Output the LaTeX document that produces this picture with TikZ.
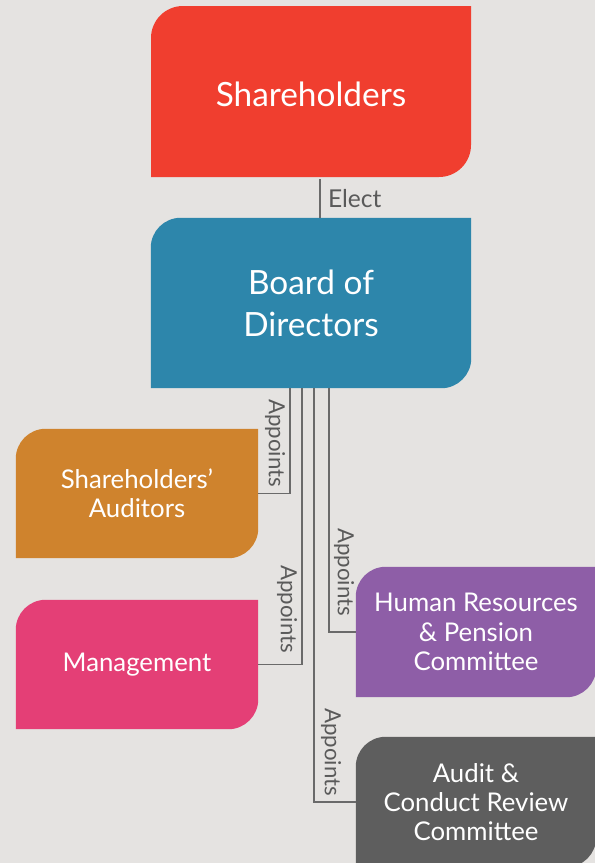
\documentclass[tikz,border=0pt]{standalone}
\usepackage{fontspec}
\setmainfont{Lato}
\usetikzlibrary{backgrounds}

\definecolor{paper}{HTML}{E5E3E1}
\definecolor{sred}{HTML}{F03E2F}
\definecolor{bblue}{HTML}{2D86AB}
\definecolor{aorange}{HTML}{CF832D}
\definecolor{mpink}{HTML}{E43F76}
\definecolor{hpurple}{HTML}{8E5EA7}
\definecolor{cgray}{HTML}{5E5E5E}
\definecolor{linegray}{HTML}{6A6A6A}
\definecolor{labelgray}{HTML}{5A5A5A}

% box with the top left and bottom right corners rounded
\newcommand{\leafbox}[2]{%
  \fill[#2] (#1.south west) -- ([yshift=-0.9cm]#1.north west)
    arc[start angle=180, end angle=90, radius=0.9cm] -- (#1.north east)
    -- ([yshift=0.9cm]#1.south east)
    arc[start angle=0, end angle=-90, radius=0.9cm] -- cycle;}

\tikzset{
  box/.style={minimum width=9.6cm, minimum height=5.1cm, inner sep=0pt,
    align=center, text=white, font=\fontsize{28.5}{36}\selectfont},
  smallbox/.style={box, minimum width=7.26cm, minimum height=3.87cm,
    font=\fontsize{22}{25}\selectfont},
  link/.style={draw=linegray, line width=1pt},
  say/.style={text=labelgray, font=\fontsize{19}{22}\selectfont},
}

\begin{document}
\begin{tikzpicture}[x=0.03cm, y=0.03cm]
\useasboundingbox (0,0) rectangle (595,-863);
\clip (0,0) rectangle (595,-863);

\node[box] (share) at (311,-94) {Shareholders};
\node[box] (board) at (311,-303) {Board of\\Directors};
\node[smallbox] (aud) at (137,-493.5) {Shareholders'\\Auditors};
\node[smallbox] (mgmt) at (137,-664.5) {Management};
\node[smallbox, minimum width=7.2cm, minimum height=3.9cm] (hr) at (476,-632) {Human Resources\\\& Pension\\Committee};
\node[smallbox, minimum width=7.2cm, minimum height=3.9cm] (audit) at (476,-802) {Audit \&\\Conduct Review\\Committee};

\begin{pgfonlayer}{background}
\fill[paper] (0,0) rectangle (595,-863);
\fill[sred] (151,-177) -- (151,-38) arc[start angle=180, end angle=90, radius=0.96cm]
  -- (471,-6) -- (471,-145) arc[start angle=0, end angle=-90, radius=0.96cm] -- cycle;
\leafbox{board}{bblue}
\leafbox{aud}{aorange}
\leafbox{mgmt}{mpink}
\leafbox{hr}{hpurple}
\leafbox{audit}{cgray}
\end{pgfonlayer}

\draw[link] (share.south -| 320,0) -- (board.north -| 320,0)
  node[midway, right, xshift=3pt, say, font=\fontsize{21}{24}\selectfont] (elect) {Elect};

\draw[link] ([xshift=-0.63cm]board.south) |- (aud.east);
\draw[link] ([xshift=-0.27cm]board.south) |- (mgmt.east);
\draw[link] ([xshift=0.09cm]board.south) |- (audit.west);
\draw[link] ([xshift=0.54cm]board.south) |- (hr.west);

\node[say, rotate=-90] (ap1) at (275,-443) {Appoints};
\node[say, rotate=-90] (ap2) at (287,-609) {Appoints};
\node[say, rotate=-90] (ap3) at (331,-752) {Appoints};
\node[say, rotate=-90] (ap4) at (344,-572) {Appoints};
\end{tikzpicture}
\end{document}
